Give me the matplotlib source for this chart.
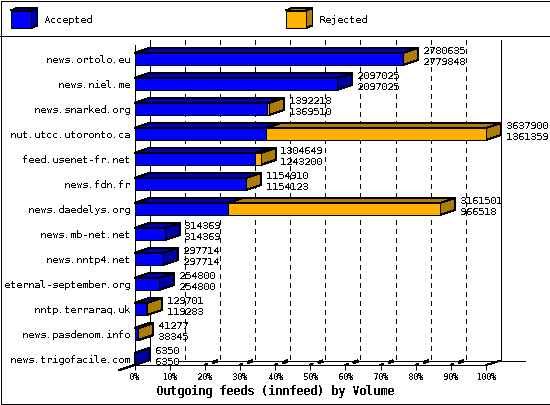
import numpy as np
import matplotlib
matplotlib.use('Agg')
import matplotlib.pyplot as plt
from matplotlib.patches import Polygon, Rectangle
from matplotlib.lines import Line2D

hosts = ['news.ortolo.eu', 'news.niel.me', 'news.snarked.org', 'nut.utcc.utoronto.ca',
         'feed.usenet-fr.net', 'news.fdn.fr', 'news.daedelys.org', 'news.mb-net.net',
         'news.nntp4.net', 'eternal-september.org', 'nntp.terraraq.uk',
         'news.pasdenom.info', 'news.trigofacile.com']
totals = [2780635, 2097025, 1392218, 3637900, 1304649, 1154910, 3161501,
          314369, 297714, 254800, 129701, 41277, 6350]
accepted = [2779848, 2097025, 1369510, 1361359, 1243200, 1154123, 966518,
            314369, 297714, 254800, 119283, 38345, 6350]
pct_ticks = list(range(0, 101, 10))
pct_labels = ['%d%%' % p for p in pct_ticks]
legend_names = ['Accepted', 'Rejected']

W, H = 550, 405
BLUE = ('#0000ff', '#0000c0', '#0000a8')
ORANGE = ('#ffb000', '#b07c08', '#b07c08')
LW = 0.72

plt.rcParams['font.family'] = ['DejaVu Sans Mono']
plt.rcParams['text.antialiased'] = False
plt.rcParams['text.hinting'] = 'native'
plt.rcParams['text.hinting_factor'] = 1
plt.rcParams['axes.linewidth'] = LW

fig = plt.figure(figsize=(W / 100, H / 100), dpi=100, facecolor='white')

# plot area: 0-100% on x, hosts on y
x0, x1, ytop, ybot = 134.5, 486.0, 45.25, 365.0
ax = fig.add_axes([x0 / W, (H - ybot) / H, (x1 - x0) / W, (ybot - ytop) / H])
ax.patch.set_visible(False)
ax.set_xlim(0, 100)
ax.set_ylim(12.24, -0.55)
for s in ['top', 'right']:
    ax.spines[s].set_visible(False)

DX = 15.0 * 100 / (x1 - x0)   # depth of the 3d effect, in percent
DY = 0.2                      # same, in rows
HB = 0.24                     # half bar height
TOP_ROW = -0.76               # wall top
FLOOR_Y = 12.24 - 4.4 / 25.0


def poly(pts, color, z):
    ax.add_patch(Polygon(pts, closed=True, facecolor=color, edgecolor='black', linewidth=LW,
                         antialiased=False, clip_on=False, zorder=z))


def line(xs, ys, **kw):
    kw.setdefault('lw', LW)
    ax.plot(xs, ys, color='black', clip_on=False, antialiased=False, zorder=1, **kw)


# back wall and floor
for p in pct_ticks[:-1]:
    line([p + DX, p + DX], [TOP_ROW, FLOOR_Y], linestyle='-' if p == 0 else (0, (5, 4.5)))
line([100 + DX, 100 + DX], [TOP_ROW, FLOOR_Y])
line([12.5, 111], [FLOOR_Y, FLOOR_Y])
line([100, 100 + DX], [12.24, FLOOR_Y])
line([-DX, 0], [12.24 + 0.2, 12.24])
for p in pct_ticks[2:-1]:
    line([p, p + 0.6], [12.24, 12.19])
    line([p + 2.5, p + 3.3], [12.13, 12.09], lw=1.6)

# bars
for i in range(len(hosts)):
    a = accepted[i] * 100.0 / max(totals)
    t = totals[i] * 100.0 / max(totals)
    up, lo = i - HB, i + HB
    if t > a:
        poly([(a, up), (a + DX, up - DY), (t + DX, up - DY), (t, up)], ORANGE[1], 3)
        poly([(t, up), (t + DX, up - DY), (t + DX, lo - DY), (t, lo)], ORANGE[2], 3)
    poly([(0, up), (DX, up - DY), (a + DX, up - DY), (a, up)], BLUE[1], 4)
    if t == a:
        poly([(a, up), (a + DX, up - DY), (a + DX, lo - DY), (a, lo)], BLUE[2], 4)
    poly([(0, up), (a, up), (a, lo), (0, lo)], BLUE[0], 5)
    if t > a:
        poly([(a, up), (t, up), (t, lo), (a, lo)], ORANGE[0], 5)
    ax.text(t + DX + 1.3, i - 0.32, str(totals[i]), fontsize=7.2, va='center', ha='left', clip_on=False, zorder=6)
    ax.text(t + DX + 1.3, i + 0.12, str(accepted[i]), fontsize=7.2, va='center', ha='left', clip_on=False, zorder=6)

ax.set_yticks(range(len(hosts)))
ax.set_yticklabels(hosts, fontsize=7.2)
ax.tick_params(axis='y', length=0, pad=3.2)
ax.set_xticks(pct_ticks)
ax.set_xticklabels(pct_labels, fontsize=6.8)
ax.tick_params(axis='x', length=3.6, width=LW, pad=1.8)
ax.set_xlabel('Outgoing feeds (innfeed) by Volume', fontsize=8.4, fontweight='bold')
ax.xaxis.set_label_coords(0.4, -26.0 / (ybot - ytop), transform=ax.transAxes)
ax.xaxis.label.set_va('center')

# legend strip, in pixels
leg = fig.add_axes([0, 1 - 35.0 / H, 1, 35.0 / H])
leg.set_xlim(0, W)
leg.set_ylim(35, 0)
leg.axis('off')
for left, tx, name, cols in zip([10.5, 285.5], [44, 319], legend_names, [BLUE, ORANGE]):
    leg.add_patch(Polygon([(left, 10.5), (left + 6.5, 8), (left + 27, 8), (left + 20.5, 10.5)], closed=True,
                          facecolor=cols[1], edgecolor='black', lw=LW, antialiased=False))
    leg.add_patch(Polygon([(left + 20.5, 10.5), (left + 27, 8), (left + 27, 25.5), (left + 20.5, 28)], closed=True,
                          facecolor=cols[2], edgecolor='black', lw=LW, antialiased=False))
    leg.add_patch(Rectangle((left, 10.5), 20.5, 17.5, facecolor=cols[0], edgecolor='black', lw=LW, antialiased=False))
    leg.text(tx, 20, name, fontsize=7.2, va='center', ha='left')

# outer frame and divider
fig.add_artist(Rectangle((0.5 / W, 1.5 / H), (W - 1.0) / W, (H - 2.0) / H, transform=fig.transFigure, fill=False,
                         edgecolor='black', lw=LW, antialiased=False))
fig.add_artist(Line2D([0, 1], [1 - 35.5 / H, 1 - 35.5 / H], transform=fig.transFigure, color='black', lw=LW,
                      antialiased=False))

fig.savefig('out.png', dpi=100)
